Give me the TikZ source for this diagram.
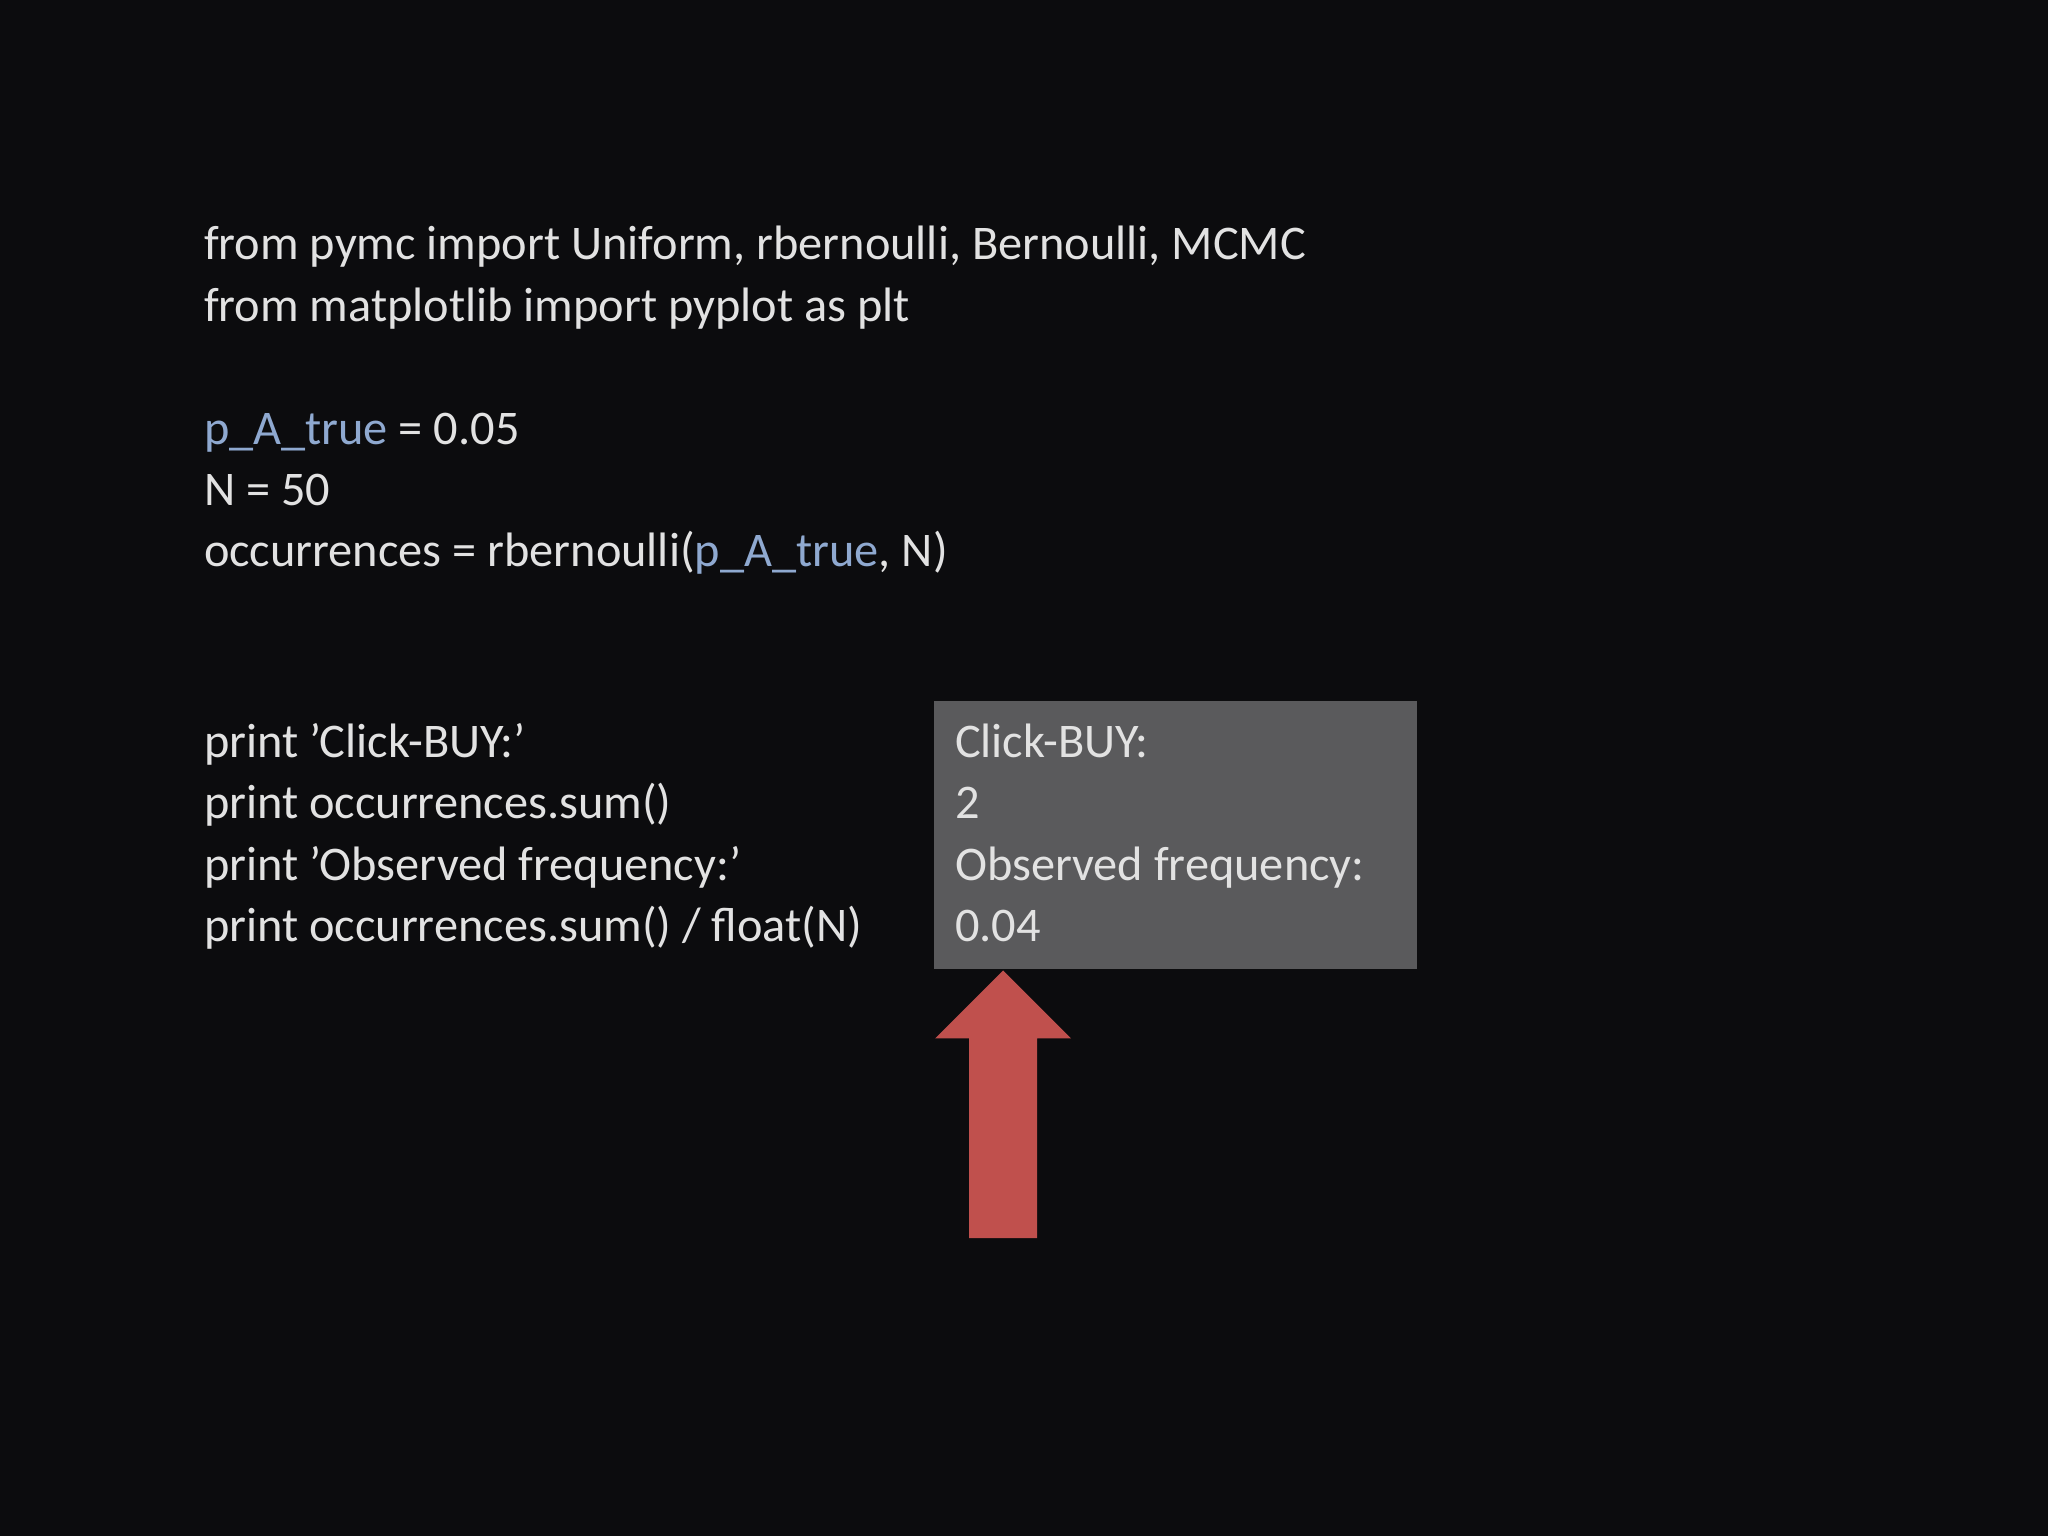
\documentclass[tikz,border=0pt]{standalone}
\usepackage{fontspec}
\setmainfont{Carlito}
\definecolor{bg}{HTML}{0C0C0E}
\definecolor{txt}{HTML}{E2E2E2}
\definecolor{blu}{HTML}{8FA9D0}
\definecolor{boxg}{HTML}{5A5A5C}
\definecolor{arr}{HTML}{C0504D}
\begin{document}
\begin{tikzpicture}[x=1pt,y=-1pt,
  code/.style={anchor=base west,inner sep=0pt,text=txt,font=\fontsize{37}{44}\selectfont}]
\fill[bg] (0,0) rectangle (1568,1176);
\useasboundingbox (0,0) rectangle (1568,1176);
\newcommand{\pb}{\textcolor{blu}{p\_A\_true}}
\node[code] (l1) at (156,199) {from pymc import Uniform, rbernoulli, Bernoulli, MCMC};
\node[code] (l2) at (156,246) {from matplotlib import pyplot as plt};
\node[code] (l3) at (156,340) {\pb{} = 0.05};
\node[code] (l4) at (156,387) {N = 50};
\node[code] (l5) at (156,434) {occurrences = rbernoulli(\pb, N)};
\node[code] (l6) at (156,580) {print 'Click-BUY:'};
\node[code] (l7) at (156,627) {print occurrences.sum()};
\node[code] (l8) at (156,674) {print 'Observed frequency:'};
\node[code] (l9) at (156,721) {print occurrences.sum() / float(N)};
\fill[boxg] (715,537) rectangle (1085,742);
\node[code] (o1) at (731,580) {Click-BUY:};
\node[code] (o2) at (731,627) {2};
\node[code] (o3) at (731,674) {Observed frequency:};
\node[code] (o4) at (731,721) {0.04};
\fill[arr] (742,948) -- (742,795) -- (716,795) -- (768,743) -- (820,795) -- (794,795) -- (794,948) -- cycle;
\end{tikzpicture}
\end{document}
